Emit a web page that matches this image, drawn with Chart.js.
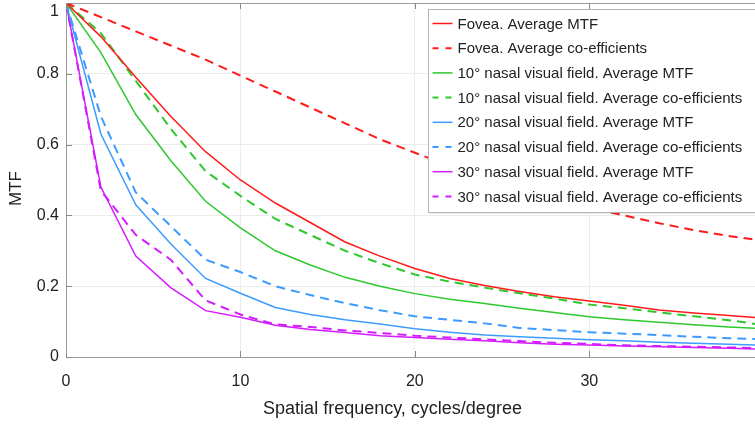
<!DOCTYPE html>
<html>
<head>
<meta charset="utf-8">
<script src="https://cdn.jsdelivr.net/npm/chart.js@4/dist/chart.umd.min.js"></script>
<style>
  html, body { margin: 0; padding: 0; background: #fff; }
  #wrap { width: 755px; height: 424px; }
</style>
</head>
<body>
<div id="wrap"><canvas id="mtfChart"></canvas></div>
<script>
// spatial frequency samples (cycles/degree)
const freq = [0, 2, 4, 6, 8, 10, 12, 14, 16, 18, 20, 22, 24, 26, 28, 30, 32, 34, 36, 38, 40];

const foveaMtf   = [1, 0.905, 0.79, 0.68, 0.58, 0.50, 0.435, 0.38, 0.325, 0.285, 0.25, 0.222, 0.202, 0.185, 0.17, 0.158, 0.146, 0.133, 0.124, 0.117, 0.11];
const foveaCoef  = [1, 0.96, 0.92, 0.88, 0.84, 0.795, 0.75, 0.705, 0.66, 0.615, 0.577, 0.54, 0.505, 0.475, 0.447, 0.422, 0.40, 0.378, 0.358, 0.342, 0.328];
const nasal10Mtf  = [1, 0.86, 0.685, 0.555, 0.44, 0.365, 0.30, 0.26, 0.225, 0.20, 0.179, 0.163, 0.151, 0.138, 0.126, 0.114, 0.105, 0.098, 0.091, 0.085, 0.08];
const nasal10Coef = [1, 0.915, 0.78, 0.645, 0.525, 0.455, 0.39, 0.345, 0.30, 0.265, 0.233, 0.213, 0.196, 0.18, 0.165, 0.148, 0.138, 0.126, 0.115, 0.104, 0.09];
const nasal20Mtf  = [1, 0.63, 0.43, 0.32, 0.222, 0.18, 0.14, 0.12, 0.105, 0.093, 0.08, 0.07, 0.062, 0.057, 0.053, 0.049, 0.046, 0.042, 0.039, 0.036, 0.033];
const nasal20Coef = [1, 0.68, 0.465, 0.37, 0.275, 0.24, 0.20, 0.175, 0.152, 0.132, 0.115, 0.105, 0.095, 0.082, 0.076, 0.07, 0.066, 0.062, 0.057, 0.053, 0.05];
const nasal30Mtf  = [1, 0.48, 0.285, 0.196, 0.131, 0.112, 0.09, 0.078, 0.069, 0.06, 0.055, 0.05, 0.046, 0.04, 0.036, 0.034, 0.031, 0.029, 0.027, 0.025, 0.022];
const nasal30Coef = [1, 0.47, 0.345, 0.275, 0.16, 0.12, 0.092, 0.085, 0.075, 0.068, 0.06, 0.055, 0.05, 0.045, 0.04, 0.037, 0.033, 0.031, 0.029, 0.027, 0.025];

const xTicks = [0, 10, 20, 30];
const yTicks = [0, 0.2, 0.4, 0.6, 0.8, 1];

const FONT = '"Liberation Sans", Arial, Helvetica, sans-serif';
const RED = '#ff1a1a', GREEN = '#2ec82e', BLUE = '#3d9bff', MAGENTA = '#d41cff';

function series(label, values, color, dashed) {
  return {
    label: label,
    data: freq.map((f, i) => ({ x: f, y: values[i] })),
    borderColor: color,
    backgroundColor: color,
    borderWidth: dashed ? 2 : 1.5,
    borderDash: dashed ? [9, 6] : [],
    pointRadius: 0,
    tension: 0,
    fill: false
  };
}

const fmt = v => String(Number(v.toFixed(1)));

// legend box inside the plot, inward tick marks, top frame and the "1" label
const framePlugin = {
  id: 'frame',
  afterDraw(chart) {
    const { ctx, chartArea: a, scales } = chart;
    const xs = scales.x, ys = scales.y;
    ctx.save();
    // top frame line
    ctx.strokeStyle = '#9a9a9a';
    ctx.lineWidth = 1;
    ctx.beginPath();
    ctx.moveTo(a.left, a.top + 0.5);
    ctx.lineTo(a.right, a.top + 0.5);
    ctx.stroke();
    // inward ticks
    ctx.strokeStyle = '#8a8a8a';
    ctx.beginPath();
    xTicks.forEach(v => {
      const px = Math.round(xs.getPixelForValue(v)) + 0.5;
      ctx.moveTo(px, a.bottom); ctx.lineTo(px, a.bottom - 6);
      ctx.moveTo(px, a.top); ctx.lineTo(px, a.top + 6);
    });
    yTicks.forEach(v => {
      const py = Math.round(ys.getPixelForValue(v)) + 0.5;
      ctx.moveTo(a.left, py); ctx.lineTo(a.left + 6, py);
    });
    ctx.stroke();

    // top y label sits just under the frame
    const topVal = yTicks[yTicks.length - 1];
    ctx.font = '16px ' + FONT;
    ctx.fillStyle = '#222';
    ctx.textAlign = 'right';
    ctx.textBaseline = 'middle';
    ctx.fillText(fmt(topVal), a.left - 7, ys.getPixelForValue(topVal) + 9);

    // legend
    const bx = a.right - 326.5, by = 9.5, bw = 340, bh = 203;
    ctx.fillStyle = '#fff';
    ctx.fillRect(bx, by, bw, bh);
    ctx.strokeStyle = '#b4b4b4';
    ctx.strokeRect(bx, by, bw, bh);
    ctx.strokeStyle = 'rgba(0,0,0,0.08)';
    ctx.beginPath();
    ctx.moveTo(bx + 1, by + bh + 1); ctx.lineTo(bx + bw, by + bh + 1);
    ctx.stroke();

    ctx.font = '15px ' + FONT;
    ctx.textAlign = 'left';
    chart.data.datasets.forEach((ds, i) => {
      const cy = by + 14 + i * 24.7;
      ctx.strokeStyle = ds.borderColor;
      ctx.lineWidth = ds.borderWidth;
      ctx.setLineDash(ds.borderDash.length ? [6, 7] : []);
      ctx.beginPath();
      ctx.moveTo(bx + 4, cy); ctx.lineTo(bx + 24, cy);
      ctx.stroke();
      ctx.setLineDash([]);
      ctx.fillStyle = '#222';
      ctx.fillText(ds.label, bx + 29, cy + 1);
    });
    ctx.restore();
  }
};

const ctx = document.getElementById('mtfChart').getContext('2d');
new Chart(ctx, {
  type: 'line',
  data: {
    datasets: [
      series('Fovea. Average MTF', foveaMtf, RED, false),
      series('Fovea. Average co-efficients', foveaCoef, RED, true),
      series('10° nasal visual field. Average MTF', nasal10Mtf, GREEN, false),
      series('10° nasal visual field. Average co-efficients', nasal10Coef, GREEN, true),
      series('20° nasal visual field. Average MTF', nasal20Mtf, BLUE, false),
      series('20° nasal visual field. Average co-efficients', nasal20Coef, BLUE, true),
      series('30° nasal visual field. Average MTF', nasal30Mtf, MAGENTA, false),
      series('30° nasal visual field. Average co-efficients', nasal30Coef, MAGENTA, true)
    ]
  },
  options: {
    responsive: true,
    maintainAspectRatio: false,
    animation: false,
    layout: { padding: 0 },
    plugins: {
      legend: { display: false },
      tooltip: { enabled: false }
    },
    scales: {
      x: {
        type: 'linear',
        min: 0,
        max: 39.5,
        afterBuildTicks: s => { s.ticks = xTicks.map(v => ({ value: v })); },
        afterFit: s => { s.height = 67; s.paddingLeft = 0; s.paddingRight = 0; },
        ticks: { color: '#222', font: { family: FONT, size: 16 }, padding: 15, maxRotation: 0 },
        grid: { color: '#ececec', drawTicks: false },
        border: { color: '#9a9a9a' },
        title: {
          display: true,
          text: 'Spatial frequency, cycles/degree\u2002\u2002\u2002\u2002',
          color: '#222',
          font: { family: FONT, size: 18 },
          padding: { top: 0, bottom: 4 }
        }
      },
      y: {
        min: 0,
        max: 1,
        afterBuildTicks: s => { s.ticks = yTicks.map(v => ({ value: v })); },
        afterFit: s => { s.width = 66; s.paddingTop = 3; s.paddingBottom = 0; },
        ticks: {
          color: '#222',
          font: { family: FONT, size: 16 },
          padding: 7,
          callback: v => (v === yTicks[yTicks.length - 1] ? '' : fmt(v))
        },
        grid: { color: '#ececec', drawTicks: false },
        border: { color: '#9a9a9a' },
        title: {
          display: true,
          text: 'MTF\u2002\u2002',
          color: '#222',
          font: { family: FONT, size: 17 },
          padding: { top: 6, bottom: 0 }
        }
      }
    }
  },
  plugins: [framePlugin]
});
</script>
</body>
</html>
